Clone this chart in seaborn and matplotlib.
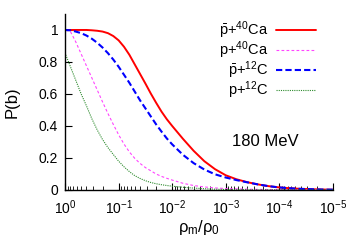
import numpy as np
import pandas as pd
import matplotlib
matplotlib.use("Agg")
import matplotlib.pyplot as plt
import seaborn as sns

# exponent n in rho_m/rho_0 = 10^-n
log_rho = [0.0, 0.1, 0.2, 0.3, 0.4, 0.5, 0.6, 0.7, 0.8, 0.9,
           1.0, 1.1, 1.2, 1.3, 1.4, 1.5, 1.6, 1.7, 1.8, 1.9,
           2.0, 2.2, 2.4, 2.6, 2.8, 3.0, 3.2, 3.4, 3.6, 3.8,
           4.0, 4.2, 4.4, 4.6, 4.8, 5.0]

pbar_ca40 = [1.0, 1.0, 1.0, 1.0, 1.0, 0.998, 0.995, 0.99, 0.98, 0.962,
             0.935, 0.895, 0.845, 0.785, 0.725, 0.665, 0.603, 0.545, 0.49, 0.442,
             0.40, 0.32, 0.245, 0.18, 0.13, 0.092, 0.067, 0.049, 0.035, 0.024,
             0.016, 0.011, 0.007, 0.005, 0.003, 0.002]
p_ca40 = [1.0, 0.99, 0.925, 0.85, 0.775, 0.70, 0.625, 0.55, 0.478, 0.41,
          0.345, 0.287, 0.238, 0.198, 0.166, 0.14, 0.12, 0.10, 0.085, 0.073,
          0.062, 0.042, 0.028, 0.019, 0.013, 0.009, 0.007, 0.005, 0.004, 0.003,
          0.002, 0.002, 0.001, 0.001, 0.001, 0.001]
pbar_c12 = [1.0, 0.998, 0.99, 0.98, 0.965, 0.945, 0.92, 0.89, 0.855, 0.815,
            0.77, 0.72, 0.67, 0.615, 0.56, 0.51, 0.46, 0.41, 0.365, 0.322,
            0.285, 0.22, 0.168, 0.128, 0.098, 0.078, 0.062, 0.048, 0.035, 0.024,
            0.016, 0.011, 0.007, 0.005, 0.003, 0.002]
p_c12 = [0.855, 0.77, 0.685, 0.6, 0.525, 0.445, 0.375, 0.315, 0.265, 0.222,
         0.18, 0.145, 0.115, 0.09, 0.072, 0.058, 0.047, 0.039, 0.033, 0.028,
         0.024, 0.017, 0.012, 0.008, 0.005, 0.003, 0.002, 0.002, 0.001, 0.001,
         0.001, 0.0008, 0.0006, 0.0005, 0.0005, 0.0005]

rho = 10.0 ** -np.array(log_rho)

sns.set_style("ticks")
plt.rcParams['font.family'] = ['Liberation Sans', 'DejaVu Sans']
plt.rcParams['mathtext.fontset'] = 'custom'
plt.rcParams['mathtext.rm'] = 'Liberation Sans'
plt.rcParams['mathtext.it'] = 'Liberation Sans:italic'
plt.rcParams['text.color'] = 'black'
plt.rcParams['axes.labelcolor'] = 'black'
plt.rcParams['axes.edgecolor'] = 'black'
plt.rcParams['xtick.color'] = 'black'
plt.rcParams['ytick.color'] = 'black'

fig = plt.figure(figsize=(3.5, 2.45), dpi=100)
ax = fig.add_axes([0.186, 0.2245, 0.765, 0.7185])

series = [
    (pbar_ca40, r'$\bar{\mathrm{p}}$+$^{40}$Ca', '#ff0000', '-', 1.4),
    (p_ca40, r'p+$^{40}$Ca', '#ff44ff', (0, (2.5, 2)), 0.8),
    (pbar_c12, r'$\bar{\mathrm{p}}$+$^{12}$C', '#0000ff', (0, (3, 1.5)), 1.5),
    (p_c12, r'p+$^{12}$C', '#2e8b2e', (0, (1, 1)), 0.8),
]
for vals, lab, col, ls, lw in series:
    df = pd.DataFrame({'rho': rho, 'P': vals})
    sns.lineplot(data=df, x='rho', y='P', ax=ax, color=col, linestyle=ls,
                 linewidth=lw, label=lab)

ax.set_xscale('log')
ax.set_xlim(1, 1e-5)
ax.set_ylim(0, 1.1)
ax.set_yticks([0, 0.2, 0.4, 0.6, 0.8, 1.0])
ax.set_yticklabels(['0', '0.2', '0.4', '0.6', '0.8', '1'])
ax.set_xticks([1, 1e-1, 1e-2, 1e-3, 1e-4, 1e-5])
ax.tick_params(axis='both', which='major', direction='in', length=5, width=0.8,
               labelsize=10)
ax.tick_params(axis='x', which='major', pad=6)
ax.tick_params(axis='y', which='major', pad=5)
ax.tick_params(axis='x', which='minor', direction='in', length=3, width=0.6)
for s in ['top', 'right']:
    ax.spines[s].set_visible(False)
for s in ['left', 'bottom']:
    ax.spines[s].set_linewidth(1.0)

ax.set_xlabel('ρ$_{\\mathrm{m}}$/ρ$_0$', fontsize=12, labelpad=1)
ax.set_ylabel('P(b)', fontsize=12, labelpad=14)

ax.text(0.746, 0.275, '180 MeV', transform=ax.transAxes, fontsize=12,
        ha='center', va='center')

ax.legend(loc='upper right', bbox_to_anchor=(0.97, 1.02), markerfirst=False,
          frameon=False, fontsize=10.5, handlelength=2.75, handletextpad=0.5,
          labelspacing=-0.1, borderaxespad=0.2)

fig.savefig('out.png', dpi=100)
